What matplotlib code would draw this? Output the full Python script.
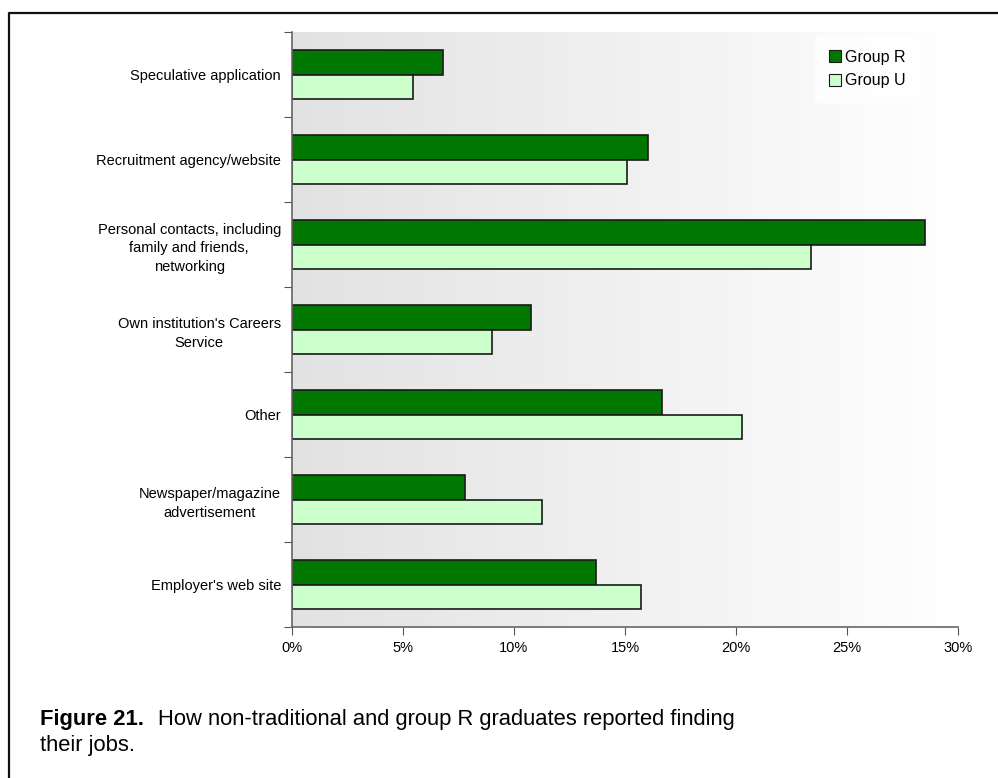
import numpy as np
import matplotlib
matplotlib.use("Agg")
import matplotlib.pyplot as plt
from matplotlib.lines import Line2D

plt.rcParams["font.family"] = ["Liberation Sans", "DejaVu Sans"]

categories = [
    "Speculative application",
    "Recruitment agency/website",
    "Personal contacts, including\nfamily and friends,\nnetworking",
    "Own institution's Careers\nService",
    "Other",
    "Newspaper/magazine\nadvertisement",
    "Employer's web site",
]
group_r = [6.8, 16.05, 28.5, 10.75, 16.65, 7.8, 13.7]
group_u = [5.45, 15.1, 23.4, 9.0, 20.25, 11.25, 15.7]
xticks = [0, 5, 10, 15, 20, 25, 30]

W, H = 998, 778
fig = plt.figure(figsize=(W / 100, H / 100), dpi=100)
ax = fig.add_axes([292 / W, 1 - 627 / H, (958 - 292) / W, (627 - 32) / H])

# grey-to-white gradient behind the bars
grad = np.linspace(0, 1, 256).reshape(1, -1)
ax.imshow(grad, cmap=matplotlib.colors.LinearSegmentedColormap.from_list(
    "bg", ["#e2e2e2", "#ffffff"]), aspect="auto",
    extent=[0, 30, len(categories), 0], zorder=0)

pos = np.arange(len(categories)) + 0.5
h = 0.286
ax.barh(pos - h / 2, group_r, height=h, color="#007700", edgecolor="#1a1a1a",
        linewidth=1.2, label="Group R", zorder=2)
ax.barh(pos + h / 2, group_u, height=h, color="#ccffcc", edgecolor="#1a1a1a",
        linewidth=1.2, label="Group U", zorder=2)

ax.set_xlim(0, 30)
ax.set_ylim(len(categories), 0)
ax.set_xticks(xticks)
ax.set_xticklabels([f"{t}%" for t in xticks], fontsize=10.5)
ax.set_yticks(np.arange(len(categories) + 1))
ax.set_yticklabels([])
ax.set_yticks(pos, minor=True)
ax.set_yticklabels(categories, minor=True, fontsize=10.5,
                   multialignment="center", linespacing=1.45)
ax.tick_params(axis="y", which="minor", length=0, pad=8)
ax.tick_params(axis="y", which="major", length=6, color="#555555")
ax.tick_params(axis="x", length=6, color="#555555", pad=4)

for side in ["top", "right"]:
    ax.spines[side].set_visible(False)
for side in ["left", "bottom"]:
    ax.spines[side].set_color("#666666")
    ax.spines[side].set_linewidth(1.2)

leg = ax.legend(loc="upper left", bbox_to_anchor=((815 - 292) / 666, 1 - 4 / 595),
                fontsize=11.5, frameon=True, fancybox=False, handlelength=0.75,
                handleheight=0.75, handletextpad=0.25, borderpad=0.85,
                labelspacing=0.55, borderaxespad=0)
leg.get_frame().set_edgecolor("white")
leg.get_frame().set_facecolor("white")
for p in leg.get_patches():
    p.set_linewidth(0.8)

# frame around the figure (left and top edges)
fig.add_artist(Line2D([9 / W, 9 / W, 1.0], [0.0, 1 - 13 / H, 1 - 13 / H],
                      transform=fig.transFigure, color="#111111", linewidth=1.6))

# caption: bold lead-in followed by plain text
cap_size = 15.8
lead = fig.text(40 / W, 1 - 719 / H, "Figure 21.", fontsize=cap_size,
                va="center", fontweight="bold")
fig.canvas.draw()
bb = lead.get_window_extent()
fig.text(bb.x1 / W + 14 / W, 1 - 719 / H,
         "How non-traditional and group R graduates reported finding",
         fontsize=cap_size, va="center")
fig.text(40 / W, 1 - 746 / H, "their jobs.", fontsize=cap_size, va="center")

fig.savefig("out.png", dpi=100)
